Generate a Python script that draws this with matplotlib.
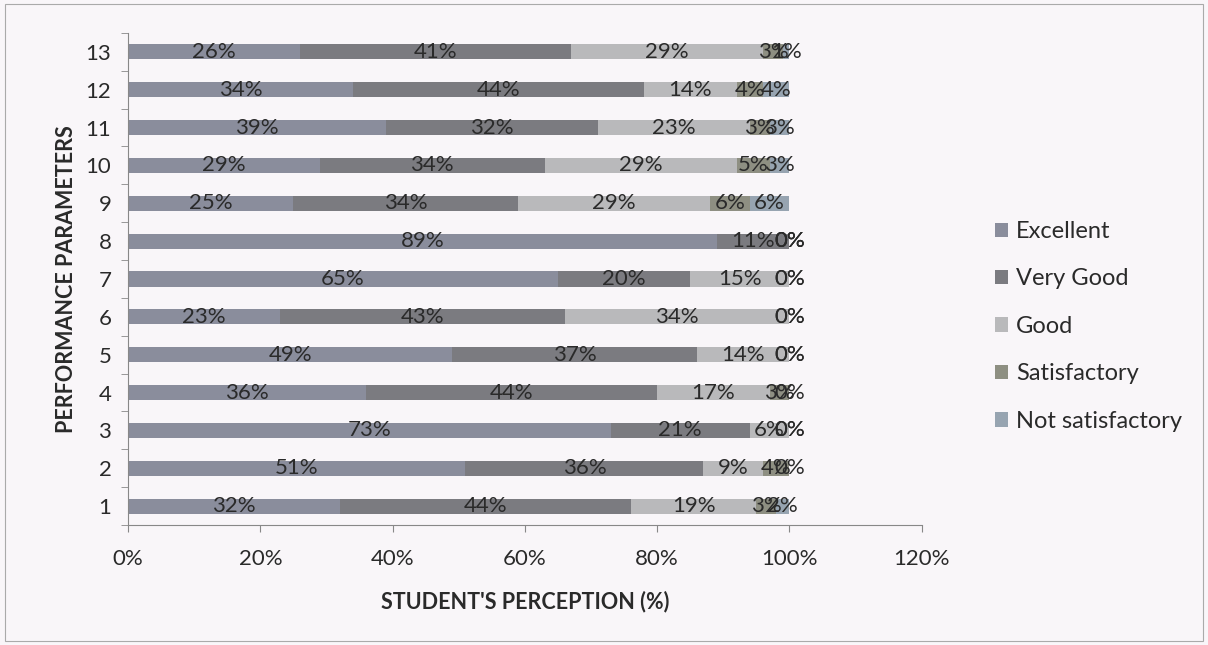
import numpy as np
import matplotlib
matplotlib.use('Agg')
import matplotlib.pyplot as plt

plt.rcParams['font.family'] = ['Lato', 'DejaVu Sans']

params = [str(i) for i in range(1, 14)]
series = ['Excellent', 'Very Good', 'Good', 'Satisfactory', 'Not satisfactory']

# values, parameters 1..13
excellent    = [32, 51, 73, 36, 49, 23, 65, 89, 25, 29, 39, 34, 26]
very_good    = [44, 36, 21, 44, 37, 43, 20, 11, 34, 34, 32, 44, 41]
good         = [19,  9,  6, 17, 14, 34, 15,  0, 29, 29, 23, 14, 29]
satisfactory = [ 3,  4,  0,  3,  0,  0,  0,  0,  6,  5,  3,  4,  3]
not_satisf   = [ 2,  0,  0,  0,  0,  0,  0,  0,  6,  3,  3,  4,  1]

colors = ['#8a8d9c', '#7b7b80', '#b9b9bb', '#8e8f82', '#97a4b1']
bg = '#f9f6f9'
txt = '#2a2a2a'

data = np.array([excellent, very_good, good, satisfactory, not_satisf], dtype=float)

fig = plt.figure(figsize=(12.08, 6.45), dpi=100, facecolor=bg)
ax = fig.add_axes([0.106, 0.186, 0.657, 0.763])
ax.set_facecolor(bg)

y = np.arange(len(params))
left = np.zeros(len(params))
for k, name in enumerate(series):
    vals = data[k]
    ax.barh(y, vals, left=left, height=0.4, color=colors[k], label=name)
    for i, v in enumerate(vals):
        ax.text(left[i] + v / 2, y[i], '%d%%' % v, ha='center', va='center',
                fontsize=16, color=txt)
    left += vals

ax.set_xlim(0, 120)
ax.set_ylim(-0.5, len(params) - 0.5)
ax.set_xticks(np.arange(0, 121, 20))
ax.set_xticklabels(['%d%%' % t for t in range(0, 121, 20)], fontsize=16, color=txt)
ax.set_yticks(y)
ax.set_yticklabels(params, fontsize=16, color=txt)
ax.set_yticks(np.arange(-0.5, len(params), 1), minor=True)
ax.tick_params(axis='y', which='major', length=0, pad=12)
ax.tick_params(axis='y', which='minor', length=5, color='#888888')
ax.tick_params(axis='x', length=5, color='#888888', pad=12)

for s in ['top', 'right']:
    ax.spines[s].set_visible(False)
for s in ['left', 'bottom']:
    ax.spines[s].set_color('#888888')

ax.set_xlabel("STUDENT'S PERCEPTION (%)", fontsize=15.5, fontweight='bold',
              color=txt, labelpad=16)
ax.set_ylabel('PERFORMANCE PARAMETERS', fontsize=15.5, fontweight='bold',
              color=txt, labelpad=6)

handles, labels = ax.get_legend_handles_labels()
leg = fig.legend(handles, labels, loc='center left', bbox_to_anchor=(0.806, 0.494),
                 frameon=False, fontsize=17, handlelength=0.55, handleheight=0.55,
                 handletextpad=0.35, labelspacing=1.12, labelcolor=txt)

# thin frame round the chart area
fig.patches.append(plt.Rectangle((0.004, 0.006), 0.992, 0.988, transform=fig.transFigure,
                                 fill=False, edgecolor='#aaaaaa', linewidth=0.8))

fig.savefig('out.png', dpi=100, facecolor=bg)
